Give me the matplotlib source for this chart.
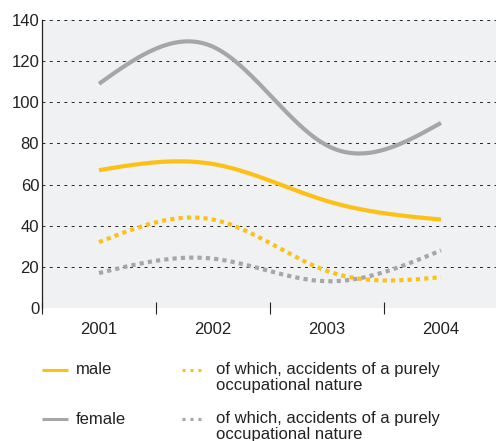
import matplotlib
matplotlib.use('Agg')

import numpy as np
import matplotlib.pyplot as plt
from matplotlib.lines import Line2D

years = ['2001', '2002', '2003', '2004']
male = [67, 70, 52, 43]
female = [109, 127, 79, 90]
male_occupational = [32, 43, 18, 15]
female_occupational = [17, 24, 13, 28]

yellow = '#fdc116'
grey = '#a6a6a8'
text_color = '#222222'

plt.rcParams['font.family'] = ['Liberation Sans', 'DejaVu Sans']


def natural_spline(y, n=60):
    # natural cubic spline through equally spaced points (smoothed line look)
    y = np.asarray(y, dtype=float)
    k = len(y)
    a = np.zeros((k, k))
    b = np.zeros(k)
    a[0, 0] = a[-1, -1] = 1
    for i in range(1, k - 1):
        a[i, i - 1], a[i, i], a[i, i + 1] = 1, 4, 1
        b[i] = 6 * (y[i - 1] - 2 * y[i] + y[i + 1])
    m = np.linalg.solve(a, b)
    xs, ys = [], []
    for i in range(k - 1):
        t = np.linspace(0, 1, n)
        s = ((1 - t) * y[i] + t * y[i + 1]
             + ((1 - t) ** 3 - (1 - t)) / 6 * m[i]
             + (t ** 3 - t) / 6 * m[i + 1])
        xs.append(i + 1 + t)
        ys.append(s)
    return np.concatenate(xs), np.concatenate(ys)


fig = plt.figure(figsize=(4.96, 4.41), dpi=100)
ax = fig.add_axes([42 / 496, 1 - 308 / 441, 1 - 42 / 496, 288 / 441])
ax.set_facecolor('#f0f1f3')

series = [
    (female, grey, '-'),
    (male, yellow, '-'),
    (male_occupational, yellow, (0, (1, 1))),
    (female_occupational, grey, (0, (1, 1))),
]
for values, color, style in series:
    xs, ys = natural_spline(values)
    ax.plot(xs, ys, color=color, linestyle=style, linewidth=3,
            solid_capstyle='butt', dash_capstyle='butt', clip_on=False)

ax.set_xlim(0.5, 0.5 + 454 / 114)
ax.set_ylim(0, 140)
ax.set_yticks(range(0, 141, 20))
ax.set_xticks(range(1, 5))
ax.set_xticklabels(years)
ax.set_xticks([0.5, 1.5, 2.5, 3.5], minor=True)
ax.tick_params(axis='x', which='major', length=0, pad=10,
               labelsize=12, labelcolor=text_color)
ax.tick_params(axis='x', which='minor', length=8, width=0.8,
               direction='inout', color='#222222')
ax.tick_params(axis='y', length=0, pad=2, labelsize=12,
               labelcolor=text_color)

ax.grid(axis='y', color='#222222', linestyle=(0, (3, 4.5)), linewidth=0.7)
ax.set_axisbelow(True)
for side in ['top', 'right', 'bottom']:
    ax.spines[side].set_visible(False)
ax.spines['left'].set_color('#222222')
ax.spines['left'].set_linewidth(0.9)

# legend drawn by hand in figure pixels
W, H = 496, 441
legend_rows = [
    (370, yellow, 'male'),
    (419, grey, 'female'),
]
for y, color, label in legend_rows:
    fig.add_artist(Line2D([42 / W, 68 / W], [1 - y / H, 1 - y / H],
                          color=color, linewidth=2.2,
                          solid_capstyle='butt'))
    fig.text(76 / W, 1 - y / H, label, fontsize=12, color=text_color,
             va='center', ha='left')
    fig.add_artist(Line2D([182 / W, 204 / W], [1 - y / H, 1 - y / H],
                          color=color, linewidth=2.2,
                          linestyle=(0, (1, 1.6)),
                          dash_capstyle='butt'))
    fig.text(216 / W, 1 - (y - 8) / H,
             'of which, accidents of a purely\noccupational nature',
             fontsize=12, color=text_color, va='top', ha='left',
             linespacing=1.1)

fig.savefig('out.png', dpi=100)
plt.close(fig)
